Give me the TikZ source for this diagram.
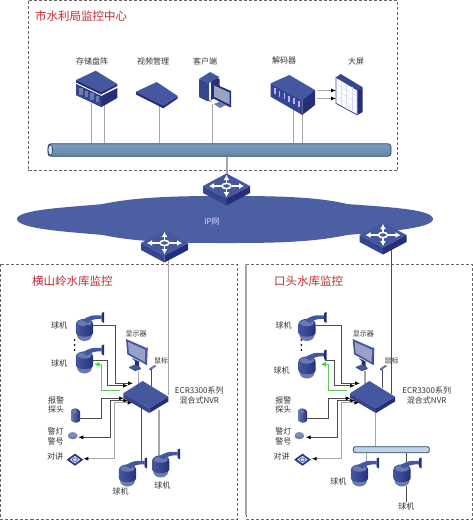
\documentclass[tikz,border=0pt]{standalone}
\usepackage{fontspec}
\usepackage{xcolor}
\usepackage{tikz}
\usetikzlibrary{arrows.meta,shapes.geometric,positioning,calc}
\setmainfont{Noto Sans CJK SC}

\definecolor{icontop}{HTML}{45589F}
\definecolor{iconside}{HTML}{36458F}
\definecolor{icondark}{HTML}{242F78}
\definecolor{iconlow}{HTML}{6C7AAC}
\definecolor{cloudblue}{HTML}{4B5FA2}
\definecolor{titlered}{HTML}{C22A30}
\definecolor{boxgray}{HTML}{666666}
\definecolor{pipeedge}{HTML}{2E4660}
\definecolor{pipehigh}{HTML}{BCD3E8}
\definecolor{pipemid}{HTML}{7C9BBC}
\definecolor{pipelow}{HTML}{5F86AB}
\definecolor{greenline}{HTML}{5CCB5C}
\definecolor{greentip}{HTML}{2EE02E}

\tikzset{
	lbl/.style={font=\fontsize{8}{9}\selectfont, text=black!80, inner sep=0pt},
	sitetitle/.style={font=\fontsize{11.5}{13}\selectfont, text=titlered, inner sep=0pt},
	areabox/.style={draw=boxgray, dash pattern=on 3pt off 2pt, line width=0.7pt},
	wire/.style={draw=black!70, line width=0.7pt},
	graywire/.style={draw=black!35, line width=1.2pt},
	greenwire/.style={draw=greenline, line width=0.7pt},
	tipblk/.tip={Latex[black,length=5pt,width=4pt]},
	tipgrn/.tip={Latex[greentip,length=5pt,width=5pt]},
	busbar/.style={draw=pipeedge, line width=0.8pt, rounded corners=3pt, top color=pipemid, middle color=pipehigh, bottom color=pipelow, inner sep=0pt},
	switchbox/.pic={
		\fill[iconside] (-23.5,0) -- (0,12.5) -- (0,19.5) -- (-23.5,7) -- cycle;
		\fill[icondark] (23.5,0) -- (0,12.5) -- (0,19.5) -- (23.5,7) -- cycle;
		\fill[icontop] (-23.5,0) -- (0,-12.5) -- (23.5,0) -- (0,12.5) -- cycle;
		\draw[white, line width=1.6pt, -{Latex[length=5pt,width=6pt]}] (-5,0) -- (-17.5,0);
		\draw[white, line width=1.6pt, -{Latex[length=5pt,width=6pt]}] (5,0) -- (17.5,0);
		\draw[white, line width=1.6pt, -{Latex[length=5pt,width=6pt]}] (0,-3) -- (0,-11);
		\draw[white, line width=1.6pt, -{Latex[length=5pt,width=6pt]}] (0,3) -- (0,11);
		\draw[white, line width=1.6pt] (0,0) ellipse (4.5 and 2.6);
	},
	domecam/.pic={
		\fill[iconlow] (0,5.5) ellipse (7.5 and 6);
		\shade[left color=icontop, right color=icondark, middle color=iconside] (-8.7,-5) -- (-8.7,3) .. controls (-8.7,8.5) and (8.7,8.5) .. (8.7,3) -- (8.7,-5) .. controls (8.7,-12.5) and (-8.7,-12.5) .. (-8.7,-5) -- cycle;
		\fill[icontop!80!white] (0,-6.5) ellipse (7 and 3.2);
		\fill[icontop] (-2,-9) .. controls (2,-13) and (8,-15) .. (17,-14) -- (17,-10.5) .. controls (11,-11) and (7,-10) .. (3,-6.5) -- cycle;
		\fill[icondark] (17,-16.5) -- (19.5,-17.5) -- (19.5,-6.5) -- (17,-8) -- cycle;
		\coordinate (-in) at (0,-4.5);
		\coordinate (-out) at (8.7,-1);
		\coordinate (-low) at (0,11);
	},
	nvrbox/.pic={
		\fill[iconside] (-19.4,12.3) -- (6.6,27.3) -- (6.6,32) -- (-19.4,17) -- cycle;
		\fill[icondark] (25.6,15.7) -- (6.6,27.3) -- (6.6,32) -- (25.6,20.5) -- cycle;
		\fill[icontop] (-19.4,12.3) -- (0,0) -- (25.6,15.7) -- (6.6,27.3) -- cycle;
	},
	lcdscreen/.pic={
		\fill[icondark] (21,8) -- (21.6,9) -- (21,26) -- (19,25) -- cycle;
		\fill[icontop] (0,0) -- (21.3,9.3) -- (20.7,26) -- (1.3,15.3) -- cycle;
		\fill[iconlow!70!white] (2,3) -- (19.3,10.8) -- (18.8,23) -- (3,14) -- cycle;
		\fill[icondark] (6,19) -- (13,22.5) -- (13,27) -- (15,30) -- (9,32) -- (3,28.5) -- (9,26) -- (9,22) -- cycle;
		\fill[icontop] (3,28) -- (9,25.5) -- (15,29) -- (9,31.5) -- cycle;
	},
	mousebox/.pic={
		\fill[iconlow] (0,3.5) -- (5,0) -- (7.4,1) -- (2.2,4.6) -- cycle;
		\fill[icondark] (0,3.5) -- (2.2,4.6) -- (2.2,5.5) -- (0,4.5) -- cycle;
	},
	alarmbox/.pic={
		\shade[left color=iconlow, right color=icondark] (-4.5,-5) .. controls (-3,-8) and (3,-8) .. (4.5,-4) -- (4.5,5) .. controls (3,8) and (-2,8) .. (-4.5,5) -- cycle;
		\fill[iconlow] (-3,-5) -- (0,-6) -- (2,-3) -- (-1,-2) -- cycle;
	},
	lampbox/.pic={
		\fill[iconlow] (0,1) ellipse (4.8 and 3.2);
		\fill[icontop!70!white] (0,-0.5) ellipse (4.3 and 2.4);
	},
	talkbox/.pic={
		\fill[icondark] (-8.3,0) -- (0,-6) -- (8.3,0) -- (0,6) -- cycle;
		\fill[white!85!blue] (-6,0) -- (0,-4.4) -- (6,0) -- (0,4.4) -- cycle;
		\draw[icontop, line width=0.7pt] (0,0) ellipse (2.6 and 1.8);
		\draw[icondark, line width=0.6pt] (-6,0) -- (0,-4.4) -- (6,0) -- (0,4.4) -- cycle;
	},
}

\begin{document}
\begin{tikzpicture}[x=1pt,y=-1pt]
	\useasboundingbox (0,0) rectangle (473,520);
	\fill[white] (0,0) rectangle (473,520);

	% area frames
	\draw[areabox] (28.5,0.5) rectangle (397.5,170.5);
	\draw[areabox] (0.5,264) rectangle (237,519);
	\draw[areabox] (246,264) rectangle (472.5,519);
	\draw[draw=black!35, line width=1.2pt] (246,264) -- (246,515);

	\node[sitetitle, anchor=west] (centertitle) at (35,16.5) {市水利局监控中心};
	\node[sitetitle, anchor=west] (lefttitle) at (32,281) {横山岭水库监控};
	\node[sitetitle, anchor=west] (righttitle) at (274,281) {口头水库监控};

	% monitoring centre
	\node[lbl] (storagelbl) at (92,61) {存储盘阵};
	\node[lbl] (videolbl) at (153,61) {视频管理};
	\node[lbl] (clientlbl) at (205,61) {客户端};
	\node[lbl] (decoderlbl) at (284,60) {解码器};
	\node[lbl] (screenlbl) at (356,61) {大屏};

	\node[busbar, minimum width=343pt, minimum height=12.5pt] (bus) at (219.5,150) {};
	\draw[draw=pipeedge, line width=0.7pt, fill=white!85!blue] (50.3,150) ellipse (2.3 and 5.5);

	\coordinate (storagea) at (91.5,103);
	\coordinate (storageb) at (104,105);
	\coordinate (videoport) at (159,106);
	\coordinate (clientport) at (212,104);
	\coordinate (decodera) at (293,110);
	\coordinate (decoderb) at (302,113);
	\foreach \port in {storagea,storageb,videoport,clientport,decodera,decoderb}
		\draw[graywire, line width=0.8pt] (\port) -- (\port |- bus.north);

	% storage
	\fill[icondark] (76,84) -- (101.5,96) -- (117.3,88) -- (117.3,98) -- (101.5,107) -- (76,95) -- cycle;
	\fill[iconside] (76,85) -- (101.5,97) -- (101.5,107) -- (76,95) -- cycle;
	\foreach \i in {0,1,2,3} \fill[iconlow] ({79+5.5*\i},{88+2.5*\i}) rectangle ({82.5+5.5*\i},{94.5+2.5*\i});
	\fill[icontop] (76,80) -- (95.7,70.7) -- (117.3,84) -- (101,92) -- cycle;
	\fill[icondark] (76,80) -- (101,92) -- (117.3,84) -- (117.3,86) -- (101,94.5) -- (76,82.5) -- cycle;

	% video server
	\fill[icondark] (136,91.7) -- (163.3,105.3) -- (177.7,96) -- (177.7,98.5) -- (163.3,108.3) -- (136,94.5) -- cycle;
	\fill[icontop] (136,91.7) -- (156.7,82) -- (177.7,96) -- (163.3,105.3) -- cycle;

	% client
	\fill[icondark] (211,75) -- (219.5,79) -- (219.5,96) -- (211,100) -- cycle;
	\fill[icontop] (199,79) -- (210,72) -- (219.5,77) -- (209,83) -- cycle;
	\fill[iconside] (199,79) -- (209,83) -- (209,100) -- (212,101.5) -- (207,101) -- (199,97) -- cycle;
	\fill[icondark] (212.5,83) -- (231,91) -- (231,107) -- (229.5,107) -- (212.5,98) -- cycle;
	\fill[iconlow!70!white] (214,85.5) -- (229.5,92.5) -- (229.5,104.5) -- (214,96.5) -- cycle;
	\fill[iconlow] (214,104) -- (220,101.5) -- (226,105) -- (220,108) -- cycle;

	% decoder and wall screen
	\fill[icontop] (270.7,83.3) -- (289.3,75) -- (315,90) -- (302.3,100) -- cycle;
	\fill[icondark] (302.3,100) -- (315,90) -- (315,105) -- (302.3,115) -- cycle;
	\fill[iconside] (270.7,83.3) -- (302.3,100) -- (302.3,115) -- (270.7,96.7) -- cycle;
	\foreach \i in {0,...,5} \fill[white!70!blue] ({274+4.8*\i},{88+2.6*\i}) rectangle ({275.5+4.8*\i},{94+2.6*\i});

	\fill[icondark] (357.3,90) -- (362.7,87.3) -- (362.7,112) -- (357.3,115) -- cycle;
	\fill[iconside] (336,77.3) -- (340.7,74) -- (362.7,87.3) -- (357.3,90) -- cycle;
	\fill[white, draw=iconside, line width=0.8pt] (336,77.3) -- (357.3,90) -- (357.3,115) -- (336,103.3) -- cycle;
	\foreach \i in {1,2,3} \draw[blue!15!white, line width=0.5pt] ({336+5.3*\i},{77.3+3.2*\i}) -- ({336+5.3*\i},{103.3+2.9*\i});
	\foreach \i in {1,2,3} \draw[blue!15!white, line width=0.5pt] (336,{77.3+6.5*\i}) -- (357.3,{90+6.3*\i});

	\coordinate (decoutA) at (317,90.5);
	\coordinate (decoutB) at (317,98.5);
	\coordinate (screenA) at (336,90.5);
	\coordinate (screenB) at (336,98.5);
	\draw[graywire, -tipblk] (decoutA) -- (screenA);
	\draw[graywire, -tipblk] (decoutB) -- (screenB);

	% network
	\fill[cloudblue] (17,219) .. controls (17,209) and (75,207) .. (103,204) .. controls (140,196) and (190,196) .. (226,196) .. controls (265,196) and (315,196) .. (347,204) .. controls (385,207) and (433,209) .. (433,219) .. controls (433,229) and (380,232) .. (347,235) .. controls (310,243) and (265,243) .. (226,243) .. controls (190,243) and (140,243) .. (103,235) .. controls (70,232) and (17,229) .. (17,219) -- cycle;
	\node[lbl, text=white!85!blue] (ipnet) at (212,222) {IP网};

	\coordinate (swtopin) at (227,186);
	\coordinate (swleftout) at (168.5,250);
	\coordinate (swrightout) at (391.5,245);
	\coordinate (leftnvrport) at (168.5,395);
	\coordinate (rightnvrport) at (391.5,394);
	\draw[graywire] (bus.south -| swtopin) -- (swtopin);
	\draw[graywire] (swleftout) -- (leftnvrport);
	\draw[wire] (swrightout) -- (rightnvrport);
	\pic (swtop) at (226.5,186) {switchbox};
	\pic (swleft) at (164.5,243) {switchbox};
	\pic (swright) at (383,235) {switchbox};

	% left site
	\node[lbl] (lcamA) at (59,325.5) {球机};
	\node[lbl] (lcamB) at (59,363) {球机};
	\node[lbl, font=\fontsize{7}{8}\selectfont] (lmon) at (136,334) {显示器};
	\node[lbl, font=\fontsize{7}{8}\selectfont] (lmouse) at (161,361) {鼠标};
	\node[lbl] (lnvrA) at (199.3,390) {ECR3300系列};
	\node[lbl] (lnvrB) at (199.3,400) {混合式NVR};
	\node[lbl] (lalarmA) at (56,400) {报警};
	\node[lbl] (lalarmB) at (56,409.5) {探头};
	\node[lbl] (llampA) at (55.7,431) {警灯};
	\node[lbl] (llampB) at (55.7,441) {警号};
	\node[lbl] (ltalk) at (55,456) {对讲};
	\node[lbl] (lcamC) at (120.7,491) {球机};
	\node[lbl] (lcamD) at (162.3,485.7) {球机};

	\coordinate (lmonport) at (138.3,371);
	\coordinate (lmouseport) at (151.7,369);
	\coordinate (lnvrmon) at (138.3,384);
	\coordinate (lnvrmouse) at (151.7,388);
	\coordinate (lnvrdownA) at (141.3,405);
	\coordinate (lnvrdownB) at (159,410);
	\coordinate (lcamCport) at (141.3,463);
	\coordinate (lcamDport) at (159,456);
	\draw[graywire] (lmonport) -- (lnvrmon);
	\draw[wire] (lmouseport) -- (lnvrmouse);
	\draw[wire] (lnvrdownA) -- (lcamCport);
	\draw[graywire] (lnvrdownB) -- (lcamDport);
	\pic (lc1) at (84.5,329.5) {domecam};
	\pic (lc2) at (84.5,362) {domecam};
	\pic (lc3) at (127.5,475) {domecam};
	\pic (lc4) at (160.7,466) {domecam};
	\foreach \y in {340,345,350} \fill[black] (74.7,\y) circle (1);
	\pic (lnvr) at (142.7,381) {nvrbox};
	\pic (lscreen) at (126,339) {lcdscreen};
	\pic (lmice) at (149.3,365) {mousebox};
	\pic (lalarm) at (75.5,415.5) {alarmbox};
	\pic (llamp) at (72.7,435) {lampbox};
	\pic (ltalkpad) at (75,459.7) {talkbox};

	\coordinate (lpA) at (133,383.3);
	\coordinate (lpB) at (128,385.7);
	\coordinate (lpG) at (120,390.7);
	\coordinate (lpC) at (124,398.3);
	\coordinate (lpD) at (128.3,400.7);
	\coordinate (lpE) at (132.7,402.7);
	\coordinate (lgreen) at (94.3,364.3);
	\coordinate (lalarmport) at (79.3,418.3);
	\coordinate (llampport) at (78.3,437.3);
	\coordinate (ltalkport) at (83.3,458.7);
	\draw[wire, -tipblk] (lc1-in) -- ++(30.5,0) |- (lpA);
	\draw[wire, -tipblk] (lc2-out) ++(0,-1) -- ++(14,0) |- (lpB);
	\draw[greenwire, -tipgrn] (lpG) -- ++(-18.7,0) |- (lgreen);
	\draw[wire, -tipblk] (lalarmport) -- ++(22,0) |- (lpC);
	\draw[wire, tipblk-tipblk] (llampport) -- ++(32.4,0) |- (lpD);
	\draw[graywire, tipblk-tipblk] (ltalkport) -- ++(31.4,0) |- (lpE);

	% right site
	\node[lbl] (rcamA) at (283.7,325) {球机};
	\node[lbl] (rcamB) at (281.7,370.3) {球机};
	\node[lbl, font=\fontsize{7}{8}\selectfont] (rmon) at (363.3,334) {显示器};
	\node[lbl, font=\fontsize{7}{8}\selectfont] (rmouse) at (391.7,360.7) {鼠标};
	\node[lbl] (rnvrA) at (426.7,390) {ECR3300系列};
	\node[lbl] (rnvrB) at (426.7,400) {混合式NVR};
	\node[lbl] (ralarmA) at (283.3,400) {报警};
	\node[lbl] (ralarmB) at (283.3,409.5) {探头};
	\node[lbl] (rlampA) at (283.3,431) {警灯};
	\node[lbl] (rlampB) at (283.3,441) {警号};
	\node[lbl] (rtalk) at (281.7,456.3) {对讲};
	\node[lbl] (rcamC) at (338.3,481) {球机};
	\node[lbl] (rcamD) at (406.3,506) {球机};

	\node[busbar, rounded corners=2pt, draw=pipeedge, top color=pipehigh, bottom color=pipehigh, middle color=pipehigh, minimum width=76pt, minimum height=6pt] (sitebus) at (391.3,449.7) {};
	\coordinate (rmonport) at (365,371);
	\coordinate (rmouseport) at (382.7,369);
	\coordinate (rnvrmon) at (365,384);
	\coordinate (rnvrmouse) at (382.7,388);
	\coordinate (rnvrdown) at (375.7,412);
	\coordinate (rcamport) at (366.7,463);
	\coordinate (rcamportB) at (406.3,465);
	\coordinate (rcamend) at (406.3,502);
	\draw[graywire] (rmonport) -- (rnvrmon);
	\draw[wire] (rmouseport) -- (rnvrmouse);
	\draw[graywire, line width=0.8pt] (rnvrdown) -- (rnvrdown |- sitebus.north);
	\draw[graywire, line width=0.8pt] (rcamport |- sitebus.south) -- (rcamport);
	\draw[wire] (rcamportB |- sitebus.south) -- (rcamportB);
	\pic (rc1) at (307,329.5) {domecam};
	\pic (rc2) at (307,367) {domecam};
	\pic (rc3) at (359.5,475) {domecam};
	\pic (rc4) at (402,475) {domecam};
	\foreach \y in {340,345,350} \fill[black] (301.3,\y) circle (1);
	\draw[wire] (rc4-low -| rcamend) -- (rcamend);
	\pic (rnvr) at (369.4,381) {nvrbox};
	\pic (rscreen) at (352.7,339) {lcdscreen};
	\pic (rmice) at (380,365) {mousebox};
	\pic (ralarm) at (302.5,415.5) {alarmbox};
	\pic (rlamp) at (299.3,435) {lampbox};
	\pic (rtalkpad) at (302.5,459.7) {talkbox};

	\coordinate (rpA) at (360,383.3);
	\coordinate (rpB) at (355,385.7);
	\coordinate (rpG) at (346.7,390.7);
	\coordinate (rpC) at (350.7,398.3);
	\coordinate (rpD) at (355,400.7);
	\coordinate (rpE) at (359.3,402.7);
	\coordinate (rgreen) at (321,364.3);
	\coordinate (ralarmport) at (306.7,418.3);
	\coordinate (rlampport) at (305.7,437.3);
	\coordinate (rtalkport) at (311.7,458.7);
	\coordinate (rcamAport) at (316,325);
	\coordinate (rcamBport) at (325,360);
	\draw[wire, -tipblk] (rcamAport) -- ++(25.3,0) |- (rpA);
	\draw[wire, -tipblk] (rcamBport) -- ++(9,0) |- (rpB);
	\draw[greenwire, -tipgrn] (rpG) -- ++(-18.7,0) |- (rgreen);
	\draw[wire, -tipblk] (ralarmport) -- ++(21.6,0) |- (rpC);
	\draw[wire, tipblk-tipblk] (rlampport) -- ++(32,0) |- (rpD);
	\draw[graywire, tipblk-tipblk] (rtalkport) -- ++(29.6,0) |- (rpE);
\end{tikzpicture}
\end{document}
